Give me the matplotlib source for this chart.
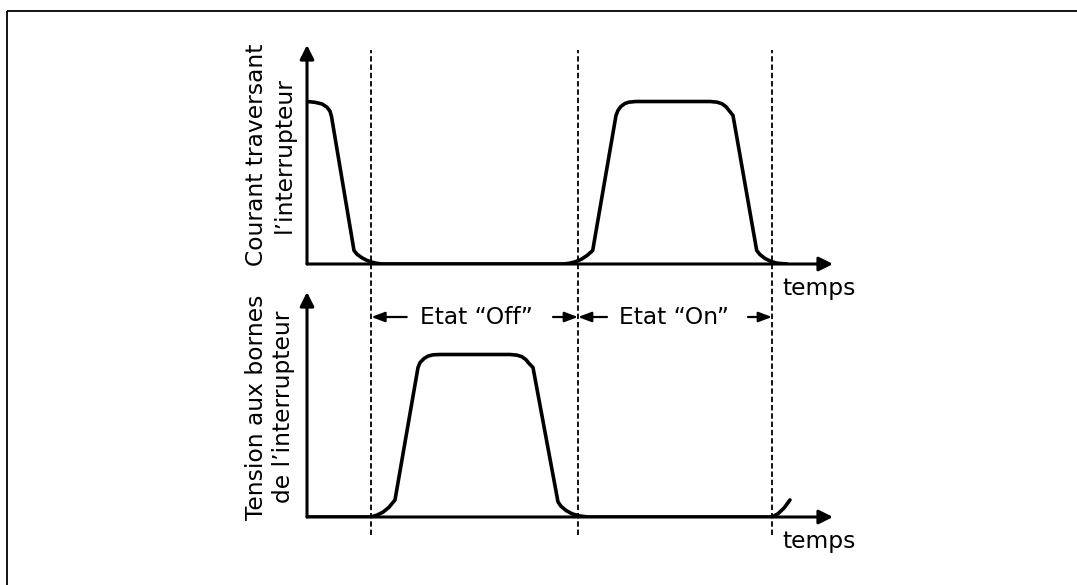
import matplotlib
matplotlib.use("Agg")
import matplotlib.pyplot as plt
from matplotlib.patches import Rectangle

# ---------------- data (time in arbitrary units, amplitude normalised) ----------------
t_current = [0.00, 0.08, 0.15, 0.20, 0.23, 0.245, 0.47, 0.50, 0.55, 0.60, 0.65, 0.70, 0.75,
             2.56, 2.62, 2.68, 2.74, 2.80, 2.857, 3.09, 3.11, 3.14, 3.18, 3.22, 3.29,
             4.03, 4.10, 4.15, 4.19, 4.22, 4.26, 4.497, 4.53, 4.58, 4.64, 4.70, 4.80]
i_current = [1.00, 0.995, 0.985, 0.965, 0.94, 0.908, 0.083, 0.060, 0.038, 0.022, 0.011, 0.004, 0.0,
             0.0, 0.004, 0.013, 0.028, 0.052, 0.083, 0.914, 0.945, 0.970, 0.988, 0.996, 1.00,
             1.00, 0.996, 0.986, 0.968, 0.945, 0.914, 0.083, 0.058, 0.034, 0.016, 0.005, 0.0]

t_voltage = [0.00, 0.64, 0.70, 0.76, 0.82, 0.88, 1.11, 1.13, 1.17, 1.21, 1.26, 1.33,
             2.03, 2.10, 2.15, 2.19, 2.22, 2.26, 2.51, 2.54, 2.59, 2.65, 2.72, 2.81,
             4.65, 4.71, 4.77, 4.83]
v_voltage = [0.0, 0.0, 0.012, 0.030, 0.060, 0.105, 0.92, 0.950, 0.975, 0.990, 0.998, 1.0,
             1.0, 0.996, 0.986, 0.968, 0.945, 0.92, 0.093, 0.066, 0.040, 0.020, 0.007, 0.0,
             0.0, 0.020, 0.055, 0.105]

t_switch = [0.643, 2.71, 4.65]
state_labels = ["Etat \u201cOff\u201d", "Etat \u201cOn\u201d"]
ylabel_top = "Courant traversant\nl\u2019interrupteur"
ylabel_bottom = "Tension aux bornes\nde l\u2019interrupteur"
xlabel = "temps"

# ---------------- figure ----------------
W, H = 1077, 585
fig = plt.figure(figsize=(W / 100, H / 100), dpi=100)
FONT = "DejaVu Sans"
FS = 16.8


def fr(x0, y_bottom, x1, y_top):
    return [x0 / W, 1 - y_bottom / H, (x1 - x0) / W, (y_bottom - y_top) / H]


X0, X1 = 307, 833
PX_PER_T = 100.0
PX_PER_A = 162.5

# outer frame
frame_ax = fig.add_axes([0, 0, 1, 1])
frame_ax.set_xlim(0, W)
frame_ax.set_ylim(H, 0)
frame_ax.axis("off")
frame_ax.add_patch(Rectangle((6.5, 11), 1100, 600, fill=False, lw=1.3, ec="black"))

axes = []
for (yb, yt) in [(264, 45), (517, 292)]:
    ax = fig.add_axes(fr(X0, yb, X1, yt))
    ax.set_xlim(0, (X1 - X0) / PX_PER_T)
    ax.set_ylim(0, (yb - yt) / PX_PER_A)
    ax.axis("off")
    ax.patch.set_alpha(0)
    arrow = dict(arrowstyle="-|>,head_length=0.7,head_width=0.35", lw=2.2, color="black",
                 mutation_scale=12, shrinkA=0, shrinkB=0)
    ax.annotate("", xy=(0, 1), xytext=(0, 0), xycoords="axes fraction", arrowprops=arrow)
    ax.annotate("", xy=(1, 0), xytext=(0, 0), xycoords="axes fraction", arrowprops=arrow)
    ax.text(1 - 14 / (X1 - X0), -13 / (yb - yt), xlabel, transform=ax.transAxes,
            ha="center", va="top", fontsize=FS, family=FONT)
    axes.append(ax)

ax_top, ax_bot = axes

ax_top.plot(t_current, i_current, color="black", lw=2.6, solid_joinstyle="round",
            solid_capstyle="round", zorder=3)
ax_bot.plot(t_voltage, v_voltage, color="black", lw=2.6, solid_joinstyle="round",
            solid_capstyle="round", zorder=3)

# dashed switching lines spanning both panels
y_hi = (264 - 50) / PX_PER_A
y_lo = (264 - 535) / PX_PER_A
for ts in t_switch:
    ax_top.plot([ts, ts], [y_lo, y_hi], color="black", lw=1.3, ls=(0, (3.0, 1.6)),
                clip_on=False, zorder=2)

# ylabels
fig.text(270 / W, 1 - 155 / H, ylabel_top, rotation=90, ha="center", va="center",
         fontsize=FS, family=FONT, linespacing=1.25)
fig.text(270 / W, 1 - 407 / H, ylabel_bottom, rotation=90, ha="center", va="center",
         fontsize=FS, family=FONT, linespacing=1.25)

# state annotations (in bottom axes data coords)
y_state = (517 - 317) / PX_PER_A
small = dict(arrowstyle="-|>,head_length=0.8,head_width=0.3", lw=1.6, color="black",
             mutation_scale=10, shrinkA=0, shrinkB=0)
text_shift = [0.02, -0.01]
left_len = [0.354, 0.29]
right_len = [0.25, 0.24]
for k, label in enumerate(state_labels):
    a, b = t_switch[k], t_switch[k + 1]
    mid = (a + b) / 2 + text_shift[k]
    ax_bot.text(mid, y_state, label, ha="center", va="center", fontsize=FS, family=FONT,
                zorder=4)
    ax_bot.annotate("", xy=(a, y_state), xytext=(a + left_len[k], y_state), arrowprops=small,
                    annotation_clip=False)
    ax_bot.annotate("", xy=(b, y_state), xytext=(b - right_len[k], y_state), arrowprops=small,
                    annotation_clip=False)

fig.savefig("out.png", dpi=100, facecolor="white")
